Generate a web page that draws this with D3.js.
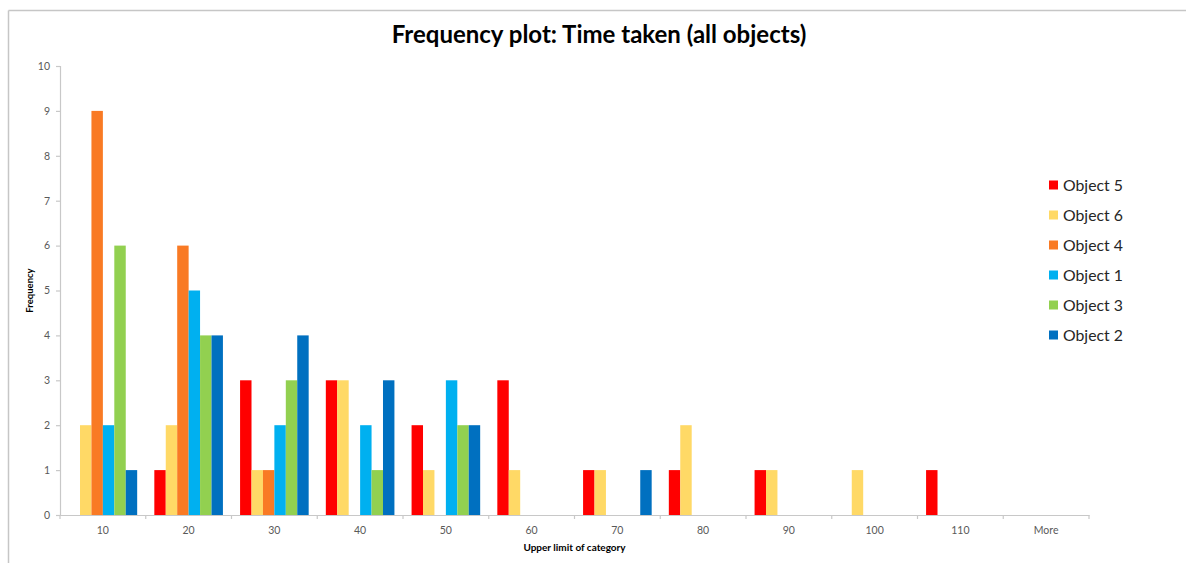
<!DOCTYPE html>
<html>
<head>
<meta charset="utf-8">
<script src="https://cdn.jsdelivr.net/npm/d3@7"></script>
<style>
  html, body { margin: 0; padding: 0; background: #fff; }
  svg { display: block; }
</style>
</head>
<body>
<svg id="chart" width="1186" height="563"></svg>
<script>
// Histogram bins (upper limit of each category)
const categories = ["10", "20", "30", "40", "50", "60", "70", "80", "90", "100", "110", "More"];

// Series in drawing order within each bin
const seriesNames = ["Object 5", "Object 6", "Object 4", "Object 1", "Object 3", "Object 2"];
const seriesColors = ["#FF0000", "#FFD966", "#F97A24", "#00B0F0", "#92D050", "#0070C0"];

// Frequencies per bin
const object5 = [0, 1, 3, 3, 2, 3, 1, 1, 1, 0, 1, 0];
const object6 = [2, 2, 1, 3, 1, 1, 1, 2, 1, 1, 0, 0];
const object4 = [9, 6, 1, 0, 0, 0, 0, 0, 0, 0, 0, 0];
const object1 = [2, 5, 2, 2, 3, 0, 0, 0, 0, 0, 0, 0];
const object3 = [6, 4, 3, 1, 2, 0, 0, 0, 0, 0, 0, 0];
const object2 = [1, 4, 4, 3, 2, 0, 1, 0, 0, 0, 0, 0];

const yTicks = [0, 1, 2, 3, 4, 5, 6, 7, 8, 9, 10];

const titleText = "Frequency plot: Time taken (all objects)";
const xTitle = "Upper limit of category";
const yTitle = "Frequency";

const seriesValues = [object5, object6, object4, object1, object3, object2];
const series = seriesNames.map((name, i) => ({ name, color: seriesColors[i], values: seriesValues[i] }));

const FONT = "Lato, 'Open Sans', sans-serif";
const svg = d3.select("#chart");

// Frame lines at top and left
svg.append("line").attr("x1", 8.5).attr("x2", 1186).attr("y1", 10.5).attr("y2", 10.5)
  .attr("stroke", "#c6c6c6").attr("stroke-width", 1.5);
svg.append("line").attr("x1", 8.5).attr("x2", 8.5).attr("y1", 10.5).attr("y2", 563)
  .attr("stroke", "#c6c6c6").attr("stroke-width", 1.5);

const plot = { left: 60, right: 1089, top: 66, bottom: 515 };

const x = d3.scaleBand().domain(categories).range([plot.left, plot.right]).paddingInner(0).paddingOuter(0);
const xs = d3.scaleBand().domain(seriesNames).range([0, x.bandwidth()]).paddingInner(0).paddingOuter(0.75);
const y = d3.scaleLinear().domain([0, 10]).range([plot.bottom, plot.top]);

// Title
svg.append("text")
  .attr("x", 599).attr("y", 43)
  .attr("text-anchor", "middle")
  .attr("font-family", FONT).attr("font-weight", "bold")
  .attr("font-size", 24).attr("fill", "#000")
  .text(titleText);

// Bars
const groups = svg.append("g").selectAll("g").data(series).join("g").attr("fill", d => d.color);
groups.selectAll("rect")
  .data(d => d.values.map((v, i) => ({ v, cat: categories[i], name: d.name })))
  .join("rect")
  .attr("x", d => x(d.cat) + xs(d.name))
  .attr("width", xs.bandwidth())
  .attr("y", d => y(d.v))
  .attr("height", d => y(0) - y(d.v));

// Y axis
const yAxis = svg.append("g")
  .attr("transform", `translate(${plot.left},0)`)
  .call(d3.axisLeft(y).tickValues(yTicks).tickSize(4).tickPadding(6).tickFormat(d3.format("d")));
yAxis.select(".domain").attr("stroke", "#c8c8c8").attr("stroke-width", 1.2);
yAxis.selectAll(".tick line").attr("stroke", "#c8c8c8").attr("stroke-width", 1.2);
yAxis.selectAll(".tick text").attr("font-family", FONT).attr("font-size", 10.5).attr("fill", "#595959");

// X axis: labels centred on bins, tick marks on bin boundaries
const xAxis = svg.append("g")
  .attr("transform", `translate(0,${plot.bottom})`)
  .call(d3.axisBottom(x).tickSize(0).tickPadding(12).tickSizeOuter(0));
xAxis.select(".domain").attr("stroke", "#c8c8c8").attr("stroke-width", 1.2);
xAxis.selectAll(".tick text").attr("font-family", FONT).attr("font-size", 10.5).attr("fill", "#595959");

const boundaries = categories.map(c => x(c)).concat([x(categories[categories.length - 1]) + x.bandwidth()]);
xAxis.selectAll("line.boundary").data(boundaries).join("line")
  .attr("class", "boundary")
  .attr("x1", d => d).attr("x2", d => d)
  .attr("y1", 0).attr("y2", 4)
  .attr("stroke", "#c8c8c8").attr("stroke-width", 1.2);

// Axis titles
svg.append("text")
  .attr("x", (plot.left + plot.right) / 2).attr("y", 551)
  .attr("text-anchor", "middle")
  .attr("font-family", FONT).attr("font-weight", "bold")
  .attr("font-size", 10).attr("fill", "#000")
  .text(xTitle);

svg.append("text")
  .attr("transform", `translate(33,${(plot.top + plot.bottom) / 2}) rotate(-90)`)
  .attr("text-anchor", "middle")
  .attr("font-family", FONT).attr("font-weight", "bold")
  .attr("font-size", 9.5).attr("fill", "#000")
  .text(yTitle);

// Legend
const legend = svg.append("g").attr("transform", "translate(1049,185)");
const items = legend.selectAll("g").data(series).join("g")
  .attr("transform", (d, i) => `translate(0,${i * 30})`);
items.append("rect").attr("x", 0).attr("y", -4.5).attr("width", 9).attr("height", 9).attr("fill", d => d.color);
items.append("text")
  .attr("x", 14).attr("y", 0).attr("dy", "0.35em")
  .attr("font-family", FONT).attr("font-size", 15.8).attr("fill", "#262626")
  .text(d => d.name);
</script>
</body>
</html>
